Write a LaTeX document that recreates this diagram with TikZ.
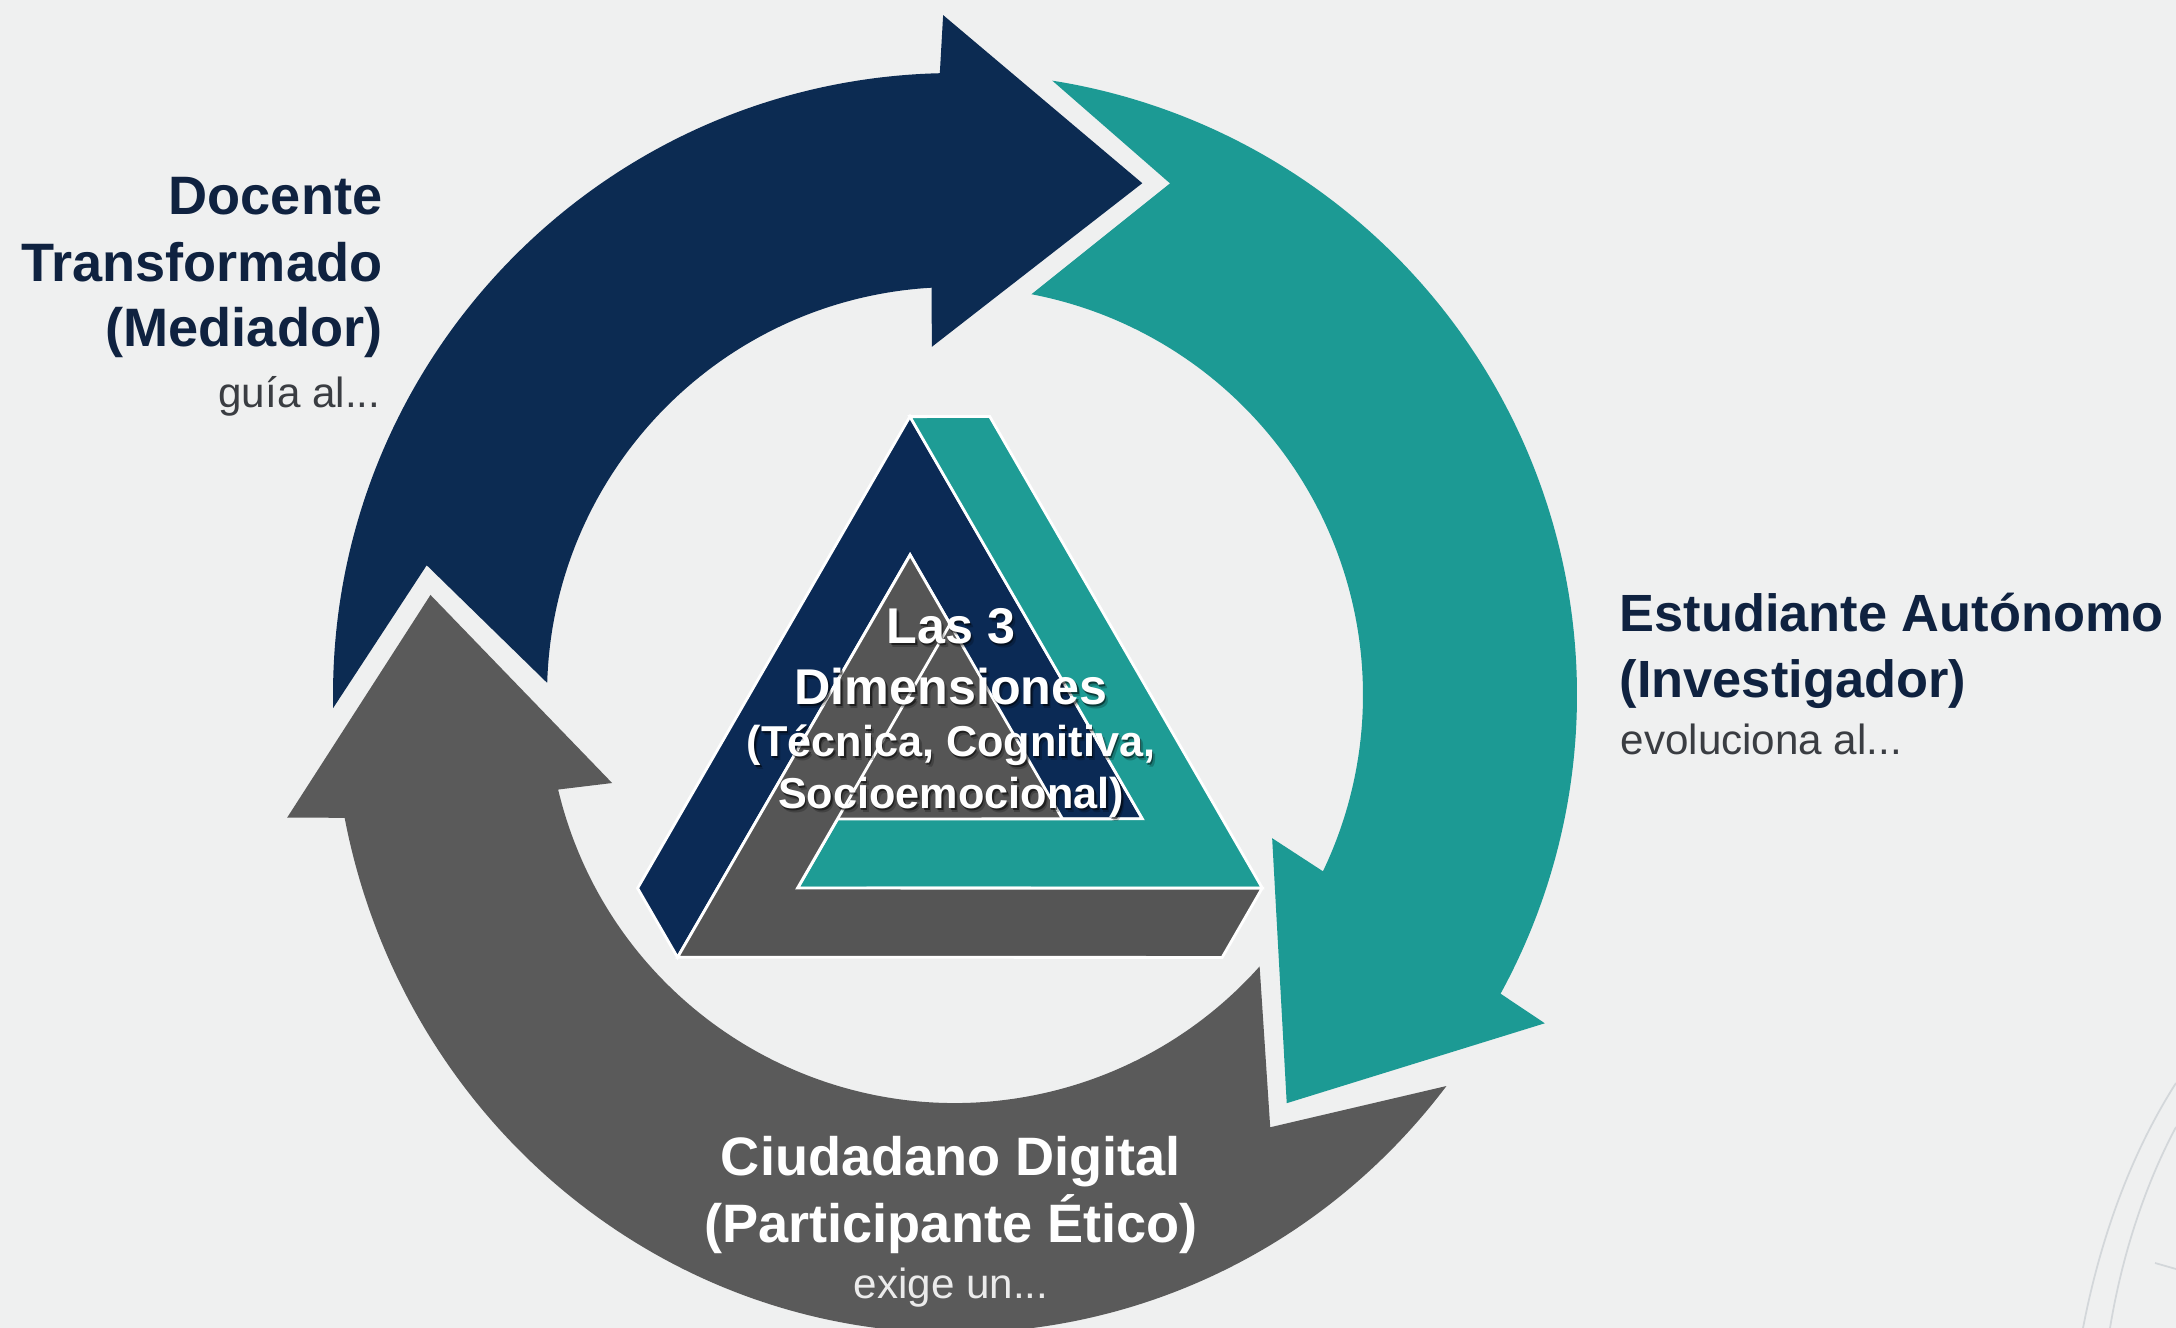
\documentclass[tikz,border=0pt]{standalone}
\usepackage{fontspec}
\setmainfont{Liberation Sans}
\definecolor{bgcol}{HTML}{EFF0F0}
\definecolor{anavy}{HTML}{0C2B52}
\definecolor{ateal}{HTML}{1C9A94}
\definecolor{agray}{HTML}{5A5A5A}
\definecolor{tblue}{HTML}{0B2A55}
\definecolor{tteal}{HTML}{1E9C95}
\definecolor{tgray}{HTML}{555555}
\definecolor{labelnavy}{HTML}{0F2240}
\definecolor{subgray}{HTML}{3A3D42}
\definecolor{decocol}{HTML}{D3D7DA}
\newcommand\ctrline[4]{%
  \node[#2, shd, text opacity=0.22, anchor=base] (#1s2) at (9.54,#3-0.045) {#4};
  \node[#2, shd, anchor=base] (#1s) at (9.525,#3-0.022) {#4};
  \node[#2, anchor=base] (#1) at (9.51,#3) {#4};
}
\begin{document}
\begin{tikzpicture}[
  lbl/.style={inner sep=0pt, text=labelnavy, font=\fontsize{15.4}{18}\selectfont\bfseries},
  lblr/.style={inner sep=0pt, text=labelnavy, font=\fontsize{14.9}{18}\selectfont\bfseries},
  sub/.style={inner sep=0pt, text=subgray, font=\fontsize{12}{14}\selectfont},
  ctr/.style={inner sep=0pt, text=white, font=\fontsize{14.3}{17}\selectfont\bfseries},
  ctrs/.style={inner sep=0pt, text=white, font=\fontsize{12.3}{15}\selectfont\bfseries},
  shd/.style={text=black, text opacity=0.5},
  piece/.style={draw=white, line width=0.8pt, line join=miter},
  deco/.style={draw=decocol, line width=0.5pt}
]
\useasboundingbox (0,0) rectangle (21.76,-13.28);
\fill[bgcol] (0,0) rectangle (21.76,-13.28);

% decorative arcs, bottom right
\draw[deco] (21.76,-10.83) .. controls (21.30,-11.55) and (21.00,-12.40) .. (20.83,-13.28);
\draw[deco] (21.76,-11.27) .. controls (21.45,-11.85) and (21.22,-12.55) .. (21.10,-13.28);
\draw[deco] (21.55,-12.63) -- (21.76,-12.69);

% cycle arrows
\begin{scope}[shift={(9.55,-6.95)}]
  % dark blue
  \fill[anavy] (181.2:6.22) arc[start angle=181.2, end angle=91.4, radius=6.22]
    -- (91.0:6.80) -- (69.9:5.45) -- (93.8:3.49) -- (93.3:4.08)
    arc[start angle=93.3, end angle=178.3, radius=4.08]
    -- (166.2:5.44) -- cycle;
  % teal
  \fill[ateal] (81.0:6.22) arc[start angle=81.0, end angle=-28.7, radius=6.22]
    -- (-29.1:6.75) -- (-50.9:5.26) -- (-24.3:3.48) -- (-25.6:4.08)
    arc[start angle=-25.6, end angle=79.2, radius=4.08]
    -- (67.2:5.55) -- cycle;
  % gray
  \fill[agray] (-37.8:6.22 and 6.38) arc[start angle=-37.8, end angle=-168.9, x radius=6.22, y radius=6.38]
    -- (-169.6:6.79) -- (-190.8:5.34) -- (-165.6:3.54) -- (-166.6:4.08)
    arc[start angle=-166.6, end angle=-41.7, radius=4.08]
    -- (-53.9:5.35) -- cycle;
\end{scope}

% impossible triangle
\begin{scope}[shift={(9.50,-7.54)}, xscale=-0.01, yscale=0.01]
  \fill[tgray] (0,130) -- (-112.58,-65) -- (112.58,-65) -- cycle;
  \foreach \ang/\col in {0/tblue,120/tteal,240/tgray}{
    \begin{scope}[rotate=\ang]
      \filldraw[piece, fill=\col] (-112.58,-65) -- (-192.58,-65) -- (40,337.85)
        -- (312.58,-134.28) -- (272.58,-203.56) -- (40,199.28) -- cycle;
    \end{scope}
  }
\end{scope}

% centre text
\ctrline{lasA}{ctr}{-6.43}{Las 3}
\ctrline{lasB}{ctr}{-7.04}{Dimensiones}
\ctrline{lasC}{ctrs}{-7.56}{(Técnica, Cognitiva,}
\ctrline{lasD}{ctrs}{-8.08}{Socioemocional)}

% left label
\node[lbl, anchor=base east] (docA) at (3.83,-2.15) {Docente};
\node[lbl, anchor=base east] (docB) at (3.83,-2.82) {Transformado};
\node[lbl, anchor=base east] (docC) at (3.83,-3.47) {(Mediador)};
\node[sub, anchor=base east] (docD) at (3.81,-4.07) {guía al...};

% right label
\node[lblr, anchor=base west] (estA) at (16.19,-6.31) {Estudiante Autónomo};
\node[lblr, anchor=base west] (estB) at (16.19,-6.97) {(Investigador)};
\node[sub, anchor=base west] (estC) at (16.20,-7.54) {evoluciona al...};

% bottom label
\node[lbl, text=white, anchor=base] (ciuA) at (9.51,-11.75) {Ciudadano Digital};
\node[lbl, text=white, anchor=base] (ciuB) at (9.51,-12.42) {(Participante Ético)};
\node[sub, text=white!92!black, anchor=base] (ciuC) at (9.51,-12.98) {exige un...};
\end{tikzpicture}
\end{document}
